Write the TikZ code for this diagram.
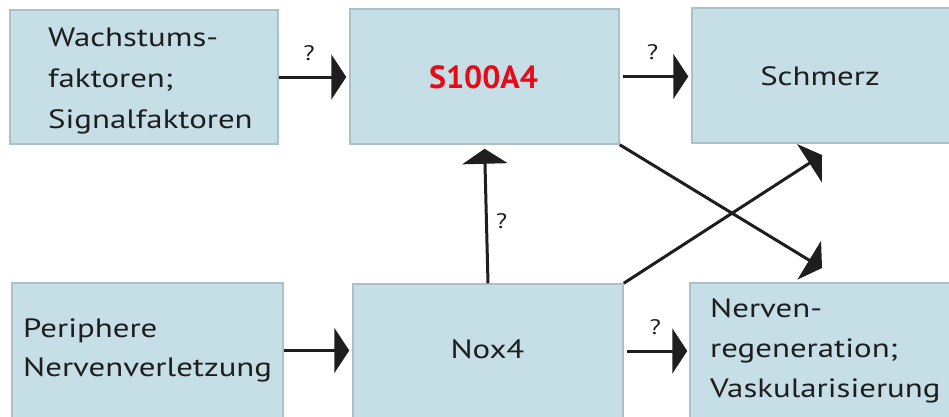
\documentclass[tikz,border=0pt]{standalone}
\usepackage{fontspec}
\setmainfont{PT Sans}[FakeStretch=1.24]
\newfontfamily\labelfont{PT Sans}
\usetikzlibrary{arrows.meta}

\definecolor{boxfill}{RGB}{198,222,230}
\definecolor{boxline}{RGB}{172,192,200}
\definecolor{ink}{RGB}{30,30,30}
\definecolor{hl}{RGB}{228,12,24}

% left-aligned block whose baseline is that of its first line
\newcommand{\linesblock}[1]{\begin{tabular}[t]{@{}l@{}}#1\end{tabular}}

\begin{document}
\begin{tikzpicture}[x=1pt,y=-1pt,
  box/.style={draw=boxline, fill=boxfill, line width=1.5pt, inner sep=0pt},
  txt/.style={font=\fontsize{26.5}{#1}\selectfont, text=ink, inner sep=0pt},
  txt/.default=40,
  qmark/.style={font=\fontsize{21}{24}\selectfont, text=ink, inner sep=0pt},
  flow/.style={draw=ink, line width=3pt, -{Triangle[length=15pt,width=45pt]}}]

\useasboundingbox (0,0) rectangle (949,416);

% boxes
\node[box, minimum width=268pt, minimum height=134pt] (b1) at (144,77) {};
\node[box, minimum width=269pt, minimum height=135pt] (b2) at (484.5,76.5) {};
\node[box, minimum width=258pt, minimum height=135pt] (b3) at (821,75.5) {};
\node[box, minimum width=271pt, minimum height=135pt] (b4) at (147.5,350.5) {};
\node[box, minimum width=270pt, minimum height=134pt] (b5) at (488,351) {};
\node[box, minimum width=260pt, minimum height=135pt] (b6) at (820,350.5) {};

% texts
\node[txt=41, anchor=base west] (l1) at (48,46.5)
  {\linesblock{Wachstums-\\faktoren;\\Signalfaktoren}};
\node[anchor=base, inner sep=0pt, text=hl, font=\labelfont\fontsize{32}{38}\selectfont\bfseries]
  (l2) at (483.5,88) {S100A4};
\node[txt, anchor=base] (l3) at (820,85) {Schmerz};
\node[txt=39, anchor=base west] (l4) at (23,337)
  {\linesblock{Periphere\\Nervenverletzung}};
\node[txt, anchor=base] (l5) at (487.5,358) {Nox4};
\node[txt, anchor=base west] (l6) at (710,317)
  {\linesblock{Nerven-\\regeneration;\\Vaskularisierung}};

% free ends of the two crossing arrows
\coordinate (t1) at (822,268);
\coordinate (t2) at (822,155);

% connectors
\draw[flow, shorten >=3pt] (b1.east) -- node[qmark, pos=.43, yshift=24pt] (q1) {?} (b1.east -| b2.west);
\draw[flow, shorten >=3pt, shorten <=3pt] (b2.east) -- node[qmark, pos=.46, yshift=24.5pt] (q2) {?} (b2.east -| b3.west);
\draw[flow, shorten >=4pt] (b5.north) -- node[qmark, pos=.45, xshift=15pt] (q3) {?} (b2.south);
\draw[flow, shorten >=3pt] (b4.east) -- (b4.east -| b5.west);
\draw[flow, shorten >=2pt, shorten <=3pt] (b5.east) -- node[qmark, pos=.48, yshift=24pt] (q4) {?} (b5.east -| b6.west);
\draw[flow] (b2.south east) -- (t1);
\draw[flow] (b5.north east) -- (t2);

\end{tikzpicture}
\end{document}
